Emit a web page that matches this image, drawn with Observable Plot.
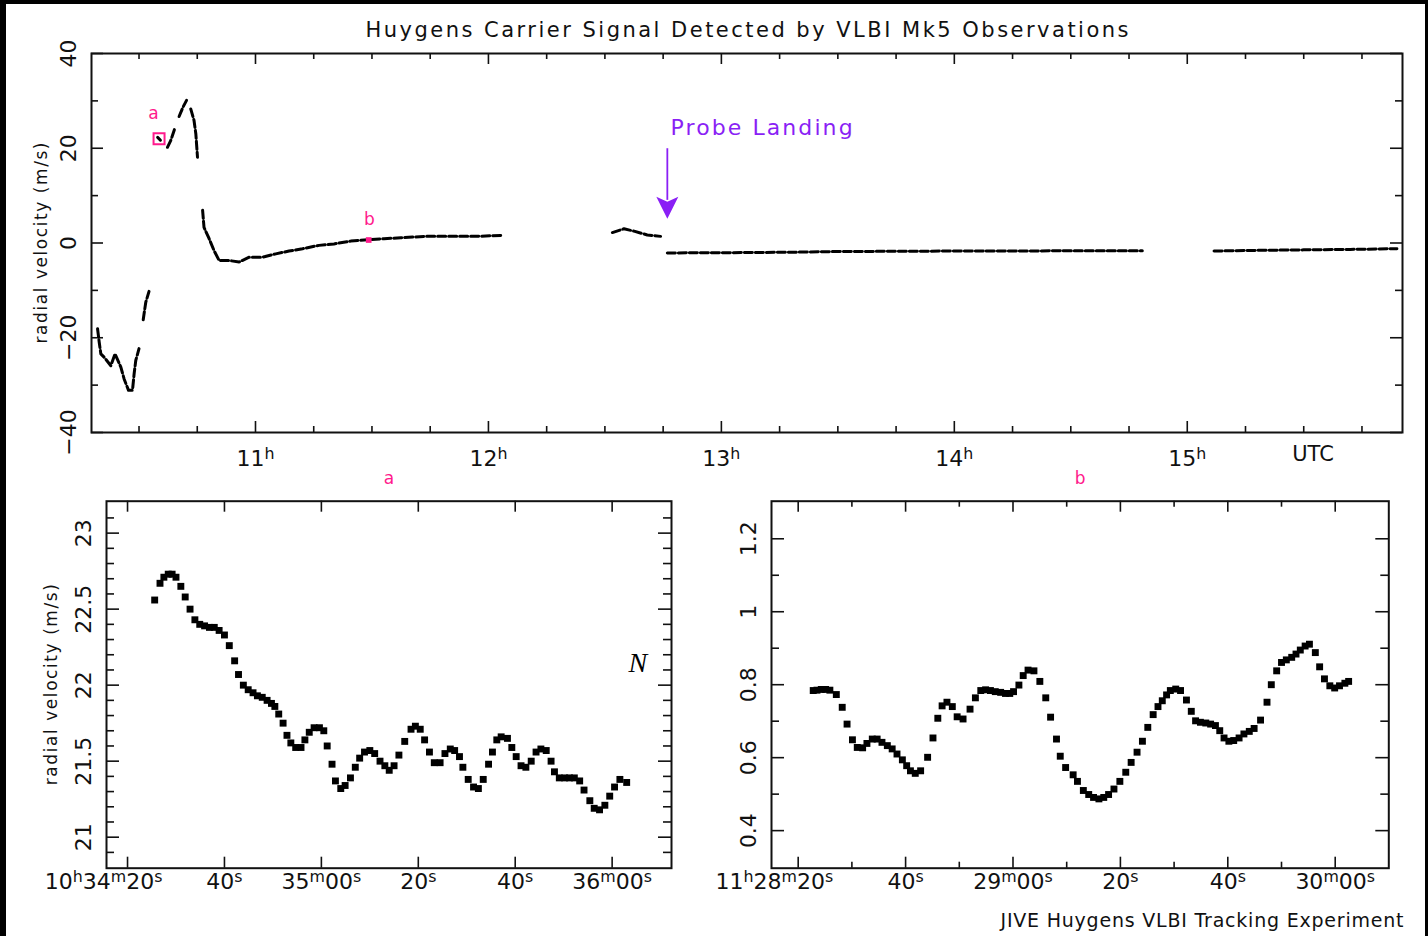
<!DOCTYPE html>
<html><head><meta charset="utf-8">
<script src="https://cdn.jsdelivr.net/npm/d3@7"></script>
<script src="https://cdn.jsdelivr.net/npm/@observablehq/plot@0.6"></script>
<style>
body{margin:0;background:#000;}
#page{position:relative;width:1428px;height:936px;overflow:hidden;background:#000;}
#paper{position:absolute;left:6px;top:4px;width:1419px;height:932px;background:#fff;}
.panel{position:absolute;}
.panel svg{background:transparent !important;overflow:visible;}
</style></head>
<body><div id="page"><div id="paper"></div>
<div class="panel" id="pTop" style="left:0;top:0;width:1428px;height:468px"></div>
<div class="panel" id="pA" style="left:0;top:468px;width:700px;height:468px"></div>
<div class="panel" id="pB" style="left:700px;top:468px;width:728px;height:468px"></div>
</div>
<script>
// ---------- data ----------
const titleText = "Huygens Carrier Signal Detected by VLBI Mk5 Observations";
const yLabelText = "radial velocity (m/s)";
const footerText = "JIVE Huygens VLBI Tracking Experiment";
const landingText = "Probe Landing";

// overview: UTC hour, radial velocity (m/s), segment id
const topHour = [10.322,10.329,10.336,10.350,10.379,10.397,10.422,10.436,10.455,10.472,10.479,10.486,10.500,
  10.518,10.529,10.543,
  10.580,10.592,
  10.622,10.636,10.655,
  10.672,10.689,10.704,
  10.722,10.736,10.744,10.751,
  10.773,10.779,10.801,10.822,10.844,10.887,10.930,10.973,11.030,11.087,11.144,11.202,11.273,11.337,11.409,11.481,11.552,11.624,11.724,11.838,11.953,12.053,
  12.532,12.582,12.625,12.682,12.739,
  12.768,13.0,13.3,13.5,14.0,14.5,14.807,
  15.115,15.3,15.5,15.7,15.9];
const topVel = [-18.1,-20.9,-23.4,-24.1,-25.9,-23.4,-26.2,-28.7,-31.1,-31.1,-27.6,-24.8,-22.3,
  -16.2,-12.5,-10.2,
  22.3,21.7,
  20.2,21.6,24.4,
  26.7,28.7,30.1,
  28.3,25.9,23.0,18.1,
  6.9,3.3,0.9,-1.6,-3.7,-3.7,-4.0,-3.0,-3.0,-2.3,-1.7,-1.2,-0.5,-0.2,0.4,0.7,0.9,1.1,1.4,1.4,1.4,1.6,
  2.2,3.0,2.5,1.7,1.4,
  -2.1,-2.05,-1.95,-1.8,-1.7,-1.65,-1.65,
  -1.7,-1.55,-1.45,-1.35,-1.2];
const topSeg = [1,1,1,1,1,1,1,1,1,1,1,1,1, 2,2,2, 3,3, 4,4,4, 5,5,5, 6,6,6,6,
  7,7,7,7,7,7,7,7,7,7,7,7,7,7,7,7,7,7,7,7,7,7, 8,8,8,8,8, 9,9,9,9,9,9,9, 10,10,10,10,10];

const topMajorX = [11,12,13,14,15];
const topXLabels = ["11ʰ","12ʰ","13ʰ","14ʰ","15ʰ"];
const topMinorX = [10.5,10.75,11.25,11.5,11.75,12.25,12.5,12.75,13.25,13.5,13.75,14.25,14.5,14.75,15.25,15.5,15.75];
const topMajorY = [-40,-20,0,20,40];
const topYLabels = ["−40","−20","0","20","40"];
const topMinorY = [-30,-10,10,30];

// zoom window markers on the overview
const markName = ["a","b"];
const markHour = [10.586,11.486];
const markVel = [22.0,0.63];
const markLabelHour = [10.562,11.489];
const markLabelVel = [26.1,3.7];
const landingHour = 12.768;

// panel a: seconds after 10h34m00s
const aSec = [25.6,26.7,27.5,28.4,29.2,30.0,31.0,31.9,32.9,33.9,34.9,35.9,36.9,37.9,38.9,40.0,41.0,42.1,42.9,43.9,
  44.9,45.9,46.8,47.8,48.8,49.7,50.4,51.2,52.1,52.9,53.7,54.7,55.8,56.6,57.5,58.5,59.6,60.5,61.2,62.2,
  62.9,64.0,64.9,66.0,67.0,67.9,68.9,70.0,71.0,72.1,73.1,74.0,75.0,76.0,77.2,78.5,79.4,80.4,81.3,82.3,
  83.3,84.5,85.5,86.6,87.5,88.5,89.2,90.3,91.4,92.4,93.4,94.5,95.3,96.2,97.1,98.4,99.3,100.2,101.2,102.2,
  103.3,104.3,105.3,106.4,107.4,108.1,109.1,110.2,111.2,112.2,113.3,114.2,115.4,116.3,117.4,118.5,119.5,120.5,121.6,123.0];
const aVel = [22.56,22.67,22.71,22.73,22.73,22.71,22.65,22.58,22.50,22.43,22.40,22.39,22.38,22.38,22.36,22.33,22.26,22.16,22.07,22.00,
  21.97,21.95,21.93,21.92,21.90,21.88,21.86,21.81,21.75,21.67,21.62,21.59,21.59,21.64,21.69,21.72,21.72,21.70,21.60,21.48,
  21.37,21.32,21.34,21.39,21.46,21.52,21.56,21.57,21.55,21.50,21.47,21.44,21.47,21.54,21.63,21.71,21.73,21.71,21.64,21.56,
  21.49,21.49,21.55,21.58,21.57,21.53,21.46,21.38,21.33,21.32,21.38,21.48,21.56,21.64,21.66,21.65,21.59,21.53,21.47,21.46,
  21.50,21.56,21.58,21.57,21.50,21.43,21.39,21.39,21.39,21.39,21.37,21.31,21.24,21.19,21.18,21.21,21.27,21.33,21.38,21.36];
const aTicks = [20,40,60,80,100,120];
const aTickLabels = ["10ʰ34ᵐ20ˢ","40ˢ","35ᵐ00ˢ","20ˢ","40ˢ","36ᵐ00ˢ"];
const aMajorY = [21,21.5,22,22.5,23];
const aYLabels = ["21","21.5","22","22.5","23"];
const aMinorY = [20.9,21.1,21.2,21.3,21.4,21.6,21.7,21.8,21.9,22.1,22.2,22.3,22.4,22.6,22.7,22.8,22.9,23.1];

// panel b: seconds after 11h28m00s
const bSec = [22.8,23.5,24.3,25.1,25.9,27.1,28.2,29.1,30.1,31.0,32.0,32.8,33.8,34.7,35.6,36.6,37.5,38.4,39.4,40.2,
  40.9,41.8,42.8,44.1,45.1,46.0,46.8,47.7,48.7,49.6,50.7,52.0,53.0,54.0,54.9,55.8,56.7,57.7,58.6,59.4,
  60.1,61.1,61.9,62.8,63.9,65.0,66.1,67.0,68.1,68.8,69.8,71.2,72.0,73.1,74.1,75.0,76.0,76.9,77.8,78.8,
  79.9,81.0,82.0,83.1,84.1,85.1,86.1,87.0,87.8,88.6,89.3,90.3,91.2,92.3,93.2,94.0,94.9,95.9,96.8,97.7,
  98.5,99.3,100.2,101.1,102.1,103.0,104.0,104.9,106.1,107.3,108.1,109.1,110.0,110.9,111.9,112.7,113.5,114.4,115.2,116.3,
  117.1,118.0,119.0,119.9,120.8,121.8,122.5];
const bVel = [0.784,0.785,0.787,0.787,0.785,0.773,0.738,0.692,0.649,0.628,0.627,0.639,0.651,0.651,0.642,0.633,0.624,0.610,0.594,0.578,
  0.564,0.557,0.564,0.601,0.654,0.708,0.742,0.752,0.740,0.712,0.706,0.733,0.764,0.784,0.786,0.784,0.781,0.779,0.776,0.776,
  0.781,0.799,0.825,0.840,0.838,0.809,0.764,0.711,0.651,0.604,0.573,0.553,0.535,0.510,0.499,0.491,0.487,0.491,0.499,0.514,
  0.535,0.560,0.587,0.615,0.645,0.683,0.718,0.740,0.756,0.772,0.784,0.788,0.784,0.758,0.727,0.701,0.697,0.695,0.692,0.688,
  0.674,0.654,0.645,0.647,0.654,0.665,0.672,0.680,0.703,0.752,0.800,0.838,0.861,0.868,0.875,0.884,0.895,0.906,0.911,0.888,
  0.849,0.816,0.797,0.791,0.797,0.804,0.809];
const bTicks = [20,40,60,80,100,120];
const bTickLabels = ["11ʰ28ᵐ20ˢ","40ˢ","29ᵐ00ˢ","20ˢ","40ˢ","30ᵐ00ˢ"];
const bMinorX = [30,50,70,90,110];
const bMajorY = [0.4,0.6,0.8,1.0,1.2];
const bYLabels = ["0.4","0.6","0.8","1","1.2"];
const bMinorY = [0.5,0.7,0.9,1.1];

// ---------- helpers ----------
const INK = "#111";
const PINK = "#ff1a8c";
const PURPLE = "#8a1ff5";
const FONT = "DejaVu Sans";

function boxTicksX(vals, len, innerH) {
  const o = {x: d => d, stroke: INK, strokeWidth: 1.6};
  return [Plot.tickX(vals, {...o, insetTop: innerH - len}), Plot.tickX(vals, {...o, insetBottom: innerH - len})];
}
function boxTicksY(vals, len, innerW) {
  const o = {y: d => d, stroke: INK, strokeWidth: 1.6};
  return [Plot.tickY(vals, {...o, insetRight: innerW - len}), Plot.tickY(vals, {...o, insetLeft: innerW - len})];
}
function yTickText(vals, labels, size) {
  return Plot.text(vals.map((v, i) => ({v, t: labels[i]})), {
    y: "v", text: "t", frameAnchor: "left", rotate: -90, textAnchor: "middle",
    lineAnchor: "bottom", dx: -16, fontSize: size, fill: INK
  });
}
function timeText(vals, labels, dy) {
  const rows = vals.map((v, i) => ({v, t: labels[i]}));
  return [
    Plot.text(rows.slice(0, 1), {x: "v", text: "t", frameAnchor: "bottom", lineAnchor: "bottom", textAnchor: "end", dx: 35, dy, fontSize: 22, fill: INK}),
    Plot.text(rows.slice(1), {x: "v", text: "t", frameAnchor: "bottom", textAnchor: "middle", lineAnchor: "bottom", dy, fontSize: 22, fill: INK})
  ];
}
function fit(svg, str, len) {
  d3.select(svg).selectAll("text").filter(function () { return this.textContent === str; })
    .attr("textLength", len).attr("lengthAdjust", "spacing");
}
// turn modifier letters (ʰ ᵐ ˢ) into real superscript tspans
function superscripts(svg) {
  const map = {"ʰ": "h", "ᵐ": "m", "ˢ": "s"};
  d3.select(svg).selectAll("text").each(function () {
    const s = this.textContent;
    if (!/[ʰᵐˢ]/.test(s)) return;
    const el = d3.select(this);
    el.text(null);
    let buf = "";
    for (const ch of s) {
      if (map[ch]) {
        if (buf) el.append("tspan").text(buf);
        buf = "";
        el.append("tspan").attr("baseline-shift", "45%").attr("font-size", "0.72em").text(map[ch]);
      } else buf += ch;
    }
    if (buf) el.append("tspan").text(buf);
  });
}
const baseStyle = {background: "transparent", overflow: "visible", fontFamily: FONT};

// ---------- overview ----------
const topRows = topHour.map((h, i) => ({h, v: topVel[i], s: topSeg[i]}));
const markRows = markName.map((n, i) => ({n, h: markHour[i], v: markVel[i], lh: markLabelHour[i], lv: markLabelVel[i]}));
const arrowHead = {draw(ctx) { ctx.moveTo(0, 0); ctx.lineTo(-11, -22); ctx.lineTo(0, -17); ctx.lineTo(11, -22); ctx.closePath(); }};

const topW = 1428, topH = 468, tML = 91, tMR = 26, tMT = 53, tMB = 36;
const topPlot = Plot.plot({
  width: topW, height: topH, marginLeft: tML, marginRight: tMR, marginTop: tMT, marginBottom: tMB,
  style: baseStyle,
  x: {domain: [10.296, 15.924], axis: null},
  y: {domain: [-40, 40], axis: null},
  marks: [
    ...boxTicksX(topMajorX, 11, topH - tMT - tMB),
    ...boxTicksX(topMinorX, 6, topH - tMT - tMB),
    ...boxTicksY(topMajorY, 12, topW - tML - tMR),
    ...boxTicksY(topMinorY, 7, topW - tML - tMR),
    Plot.frame({stroke: INK, strokeWidth: 2}),
    Plot.line(topRows, {x: "h", y: "v", z: "s", stroke: "#000", strokeWidth: 3, strokeDasharray: "8,3"}),
    Plot.dot(markRows.slice(0, 1), {x: "h", y: "v", symbol: "square", r: 6.2, stroke: PINK, strokeWidth: 2, fill: "none"}),
    Plot.dot(markRows.slice(1), {x: "h", y: "v", symbol: "square", r: 3.2, fill: PINK}),
    Plot.text(markRows, {x: "lh", y: "lv", text: "n", lineAnchor: "bottom", fontSize: 17, fill: PINK}),
    Plot.ruleX([landingHour], {y1: 19.9, y2: 9.0, stroke: PURPLE, strokeWidth: 1.8}),
    Plot.dot([landingHour], {x: d => d, y: () => 5.1, symbol: arrowHead, r: 5, fill: PURPLE}),
    Plot.text([landingText], {x: () => 12.782, y: () => 22.7, text: d => d, textAnchor: "start", lineAnchor: "bottom", fontSize: 22, fill: PURPLE}),
    Plot.text([titleText], {frameAnchor: "top", text: d => d, textAnchor: "middle", lineAnchor: "bottom", dy: -16.3, fontSize: 21, fill: INK}),
    Plot.text([yLabelText], {frameAnchor: "left", text: d => d, rotate: -90, textAnchor: "middle", lineAnchor: "middle", dx: -50, fontSize: 17, fill: INK}),
    yTickText(topMajorY, topYLabels, 22),
    Plot.text(topMajorX.map((v, i) => ({v, t: topXLabels[i]})), {x: "v", text: "t", frameAnchor: "bottom", textAnchor: "middle", lineAnchor: "bottom", dy: 33, fontSize: 22, fill: INK}),
    Plot.text(["UTC"], {x: () => 15.54, text: d => d, frameAnchor: "bottom", textAnchor: "middle", lineAnchor: "bottom", dy: 28, fontSize: 21, fill: INK})
  ]
});
fit(topPlot, titleText, 763);
fit(topPlot, landingText, 182);
fit(topPlot, yLabelText, 201);
superscripts(topPlot);
document.getElementById("pTop").appendChild(topPlot);

// ---------- panel a ----------
const aRows = aSec.map((t, i) => ({t, v: aVel[i]}));
const pW = 700, pH = 468, aML = 106, aMR = 29, pMT = 32.7, pMB = 68.3;
const aPlot = Plot.plot({
  width: pW, height: pH, marginLeft: aML, marginRight: aMR, marginTop: pMT, marginBottom: pMB,
  style: baseStyle,
  x: {domain: [15.66, 132.25], axis: null},
  y: {domain: [20.796, 23.21], axis: null},
  marks: [
    ...boxTicksX(aTicks, 11, pH - pMT - pMB),
    ...boxTicksY(aMajorY, 13, pW - aML - aMR),
    ...boxTicksY(aMinorY, 8, pW - aML - aMR),
    Plot.frame({stroke: INK, strokeWidth: 2}),
    Plot.dot(aRows, {x: "t", y: "v", symbol: "square", r: 3.9, fill: "#000"}),
    Plot.text(["N"], {x: () => 125.3, y: () => 22.085, text: d => d, lineAnchor: "bottom", fontFamily: "Liberation Serif", fontStyle: "italic", fontSize: 28, fill: "#000"}),
    Plot.text(["a"], {frameAnchor: "top", text: d => d, textAnchor: "middle", lineAnchor: "bottom", dy: -17.7, fontSize: 17, fill: PINK}),
    Plot.text([yLabelText], {frameAnchor: "left", text: d => d, rotate: -90, textAnchor: "middle", lineAnchor: "middle", dx: -55, fontSize: 17, fill: INK}),
    yTickText(aMajorY, aYLabels, 22),
    ...timeText(aTicks, aTickLabels, 20.6)
  ]
});
fit(aPlot, yLabelText, 201);
superscripts(aPlot);
document.getElementById("pA").appendChild(aPlot);

// ---------- panel b ----------
const bRows = bSec.map((t, i) => ({t, v: bVel[i]}));
const bW = 728, bML = 71, bMR = 39.7;
const bPlot = Plot.plot({
  width: bW, height: pH, marginLeft: bML, marginRight: bMR, marginTop: pMT, marginBottom: pMB,
  style: baseStyle,
  x: {domain: [15.03, 129.98], axis: null},
  y: {domain: [0.297, 1.303], axis: null},
  marks: [
    ...boxTicksX(bTicks, 11, pH - pMT - pMB),
    ...boxTicksX(bMinorX, 6, pH - pMT - pMB),
    ...boxTicksY(bMajorY, 13, bW - bML - bMR),
    ...boxTicksY(bMinorY, 8, bW - bML - bMR),
    Plot.frame({stroke: INK, strokeWidth: 2}),
    Plot.dot(bRows, {x: "t", y: "v", symbol: "square", r: 3.9, fill: "#000"}),
    Plot.text(["b"], {frameAnchor: "top", text: d => d, textAnchor: "middle", lineAnchor: "bottom", dy: -17.7, fontSize: 17, fill: PINK}),
    yTickText(bMajorY, bYLabels, 22),
    ...timeText(bTicks, bTickLabels, 20.6),
    Plot.text([footerText], {frameAnchor: "bottom-right", text: d => d, textAnchor: "end", lineAnchor: "bottom", dx: 14.7, dy: 59, fontSize: 19, fill: INK})
  ]
});
fit(bPlot, footerText, 403);
superscripts(bPlot);
document.getElementById("pB").appendChild(bPlot);
</script>
</body></html>
